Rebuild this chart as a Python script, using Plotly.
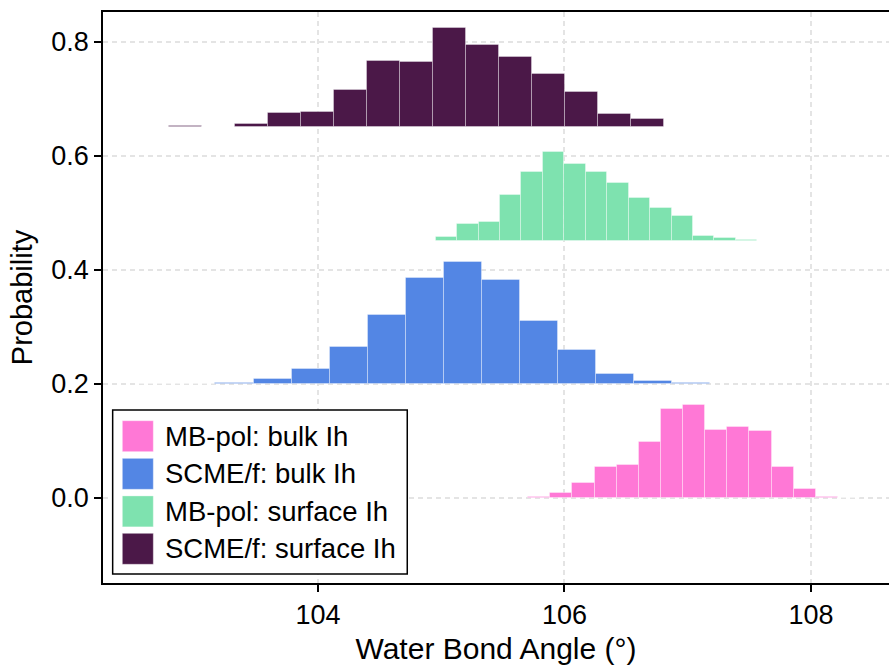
import plotly.graph_objects as go

# Histogram data for water bond angles (degrees) — 15 bins per system
labels = ["MB-pol: bulk Ih", "SCME/f: bulk Ih", "MB-pol: surface Ih", "SCME/f: surface Ih"]
colors = ["#FF78D6", "#5386E4", "#7EE2AF", "#4B1848"]

# vertical offsets used to stack the distributions
offsets = [0.0, 0.2, 0.45, 0.65]

# left edge of first bin and bin width for each system
mbpol_bulk_start, mbpol_bulk_width = 105.706, 0.1795
scme_bulk_start, scme_bulk_width = 102.551, 0.3087
mbpol_surf_start, mbpol_surf_width = 104.955, 0.174
scme_surf_start, scme_surf_width = 102.788, 0.2678

mbpol_bulk = [0.0015, 0.008, 0.026, 0.054, 0.058, 0.098, 0.157, 0.164,
              0.119, 0.124, 0.118, 0.054, 0.016, 0.001, 0.0005]
scme_bulk = [0.0005, 0.0008, 0.0018, 0.0082, 0.0263, 0.0649, 0.1205, 0.1854,
             0.2146, 0.1830, 0.1111, 0.0602, 0.0181, 0.0047, 0.0012]
mbpol_surf = [0.0076, 0.0310, 0.0339, 0.0807, 0.1211, 0.1573, 0.1363, 0.1211,
              0.1018, 0.0760, 0.0591, 0.0439, 0.0094, 0.0053, 0.0035]
scme_surf = [0.002, 0.0, 0.0058, 0.0251, 0.0275, 0.0661, 0.1170, 0.1146,
             0.1749, 0.1450, 0.1234, 0.0942, 0.0620, 0.0228, 0.0146]

series = [
    (mbpol_bulk_start, mbpol_bulk_width, mbpol_bulk),
    (scme_bulk_start, scme_bulk_width, scme_bulk),
    (mbpol_surf_start, mbpol_surf_width, mbpol_surf),
    (scme_surf_start, scme_surf_width, scme_surf),
]

FONT = "Liberation Sans, Arial, sans-serif"
fig = go.Figure()

for (start, width, heights), off, col, name in zip(series, offsets, colors, labels):
    centers = [start + width * (i + 0.5) for i in range(len(heights))]
    fig.add_trace(go.Bar(
        x=centers, y=heights, base=[off] * len(heights), width=width,
        marker=dict(color=col, line=dict(color="rgba(255,255,255,0.35)", width=1)),
        name=name, showlegend=False,
    ))

# legend drawn with large swatches
box = dict(x0=0.0123, x1=0.3871, y0=0.0158, y1=0.3030)
fig.add_shape(type="rect", xref="paper", yref="paper", **box,
              line=dict(color="black", width=1.5), fillcolor="white", layer="above")
row_y = [0.2571, 0.1912, 0.1254, 0.0599]
half = 0.0271
for name, col, yc in zip(labels, colors, row_y):
    fig.add_shape(type="rect", xref="paper", yref="paper",
                  x0=0.0246, x1=0.0640, y0=yc - half, y1=yc + half,
                  fillcolor=col, line=dict(color="rgba(255,255,255,0.35)", width=1),
                  layer="above")
    fig.add_annotation(xref="paper", yref="paper", x=0.0760, y=yc, text=name,
                       showarrow=False, xanchor="left", yanchor="middle",
                       font=dict(family=FONT, size=27.5, color="black"))

grid = dict(showgrid=True, gridcolor="#e4e4e4", griddash="5px,4px", gridwidth=1.5)

fig.update_layout(
    width=889, height=671,
    margin=dict(l=103, r=0, t=12, b=88),
    plot_bgcolor="white", paper_bgcolor="white",
    font=dict(family=FONT, color="black"),
    barmode="overlay", bargap=0,
    xaxis=dict(
        range=[102.256, 108.633], tick0=104, dtick=2,
        showline=True, linecolor="black", linewidth=1.5, mirror=True,
        ticks="outside", ticklen=7, tickwidth=1.5, tickcolor="black",
        tickfont=dict(size=27), zeroline=False,
        title=dict(text="Water Bond Angle (°)", font=dict(size=30), standoff=9),
        **grid,
    ),
    yaxis=dict(
        range=[-0.1491, 0.8526], tick0=0, dtick=0.2, tickformat=".1f",
        showline=True, linecolor="black", linewidth=1.5, mirror=False,
        ticks="outside", ticklen=7, tickwidth=1.5, tickcolor="black",
        tickfont=dict(size=27), zeroline=False,
        title=dict(text="Probability", font=dict(size=29), standoff=10),
        **grid,
    ),
)

fig.write_html("out.html")
